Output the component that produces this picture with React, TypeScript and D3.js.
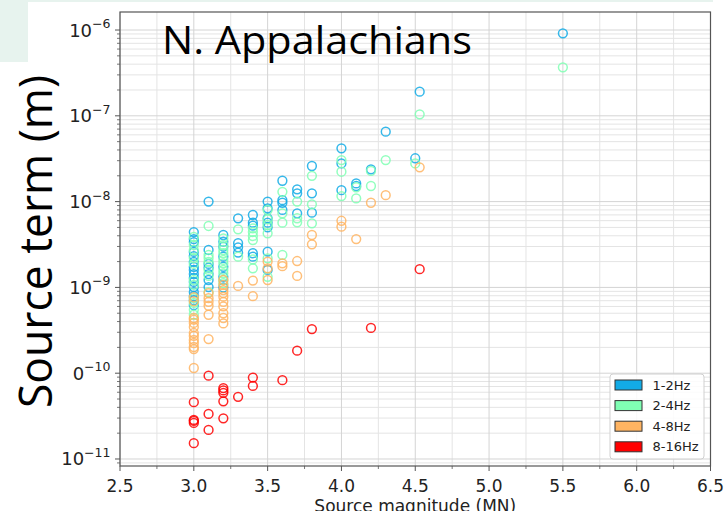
import React from "react";
import * as d3 from "d3";

// Source term (m) versus source magnitude (MN), one series per frequency band
const bandLabels = ["1-2Hz", "2-4Hz", "4-8Hz", "8-16Hz"];
const bandColors = ["#12abe6", "#80ffb4", "#ffb462", "#ff0000"];

const band1to2: [number, number][] = [
  [3.0, 4.42e-9], [3.0, 3.66e-9], [3.0, 3.38e-9], [3.0, 2.59e-9], [3.0, 2.32e-9], [3.0, 1.98e-9],
  [3.0, 1.73e-9], [3.0, 1.6e-9], [3.0, 1.43e-9], [3.0, 1.29e-9], [3.0, 1.16e-9], [3.0, 1.01e-9],
  [3.0, 0.88e-9], [3.0, 0.79e-9], [3.0, 0.71e-9], [3.0, 0.62e-9],
  [3.1, 1.0e-8], [3.1, 2.73e-9], [3.1, 1.88e-9], [3.1, 1.7e-9], [3.1, 1.43e-9], [3.1, 1.22e-9], [3.1, 1.01e-9],
  [3.2, 4.08e-9], [3.2, 3.41e-9], [3.2, 2.98e-9], [3.2, 2.28e-9], [3.2, 1.74e-9], [3.2, 1.33e-9], [3.2, 1.0e-9],
  [3.3, 6.39e-9], [3.3, 3.27e-9], [3.3, 2.93e-9], [3.3, 2.54e-9],
  [3.4, 6.98e-9], [3.4, 5.68e-9], [3.4, 5.24e-9], [3.4, 2.5e-9], [3.4, 2.28e-9],
  [3.5, 1.0e-8], [3.5, 8.36e-9], [3.5, 6.39e-9], [3.5, 5.68e-9], [3.5, 5.01e-9], [3.5, 2.61e-9], [3.5, 1.6e-9],
  [3.6, 1.75e-8], [3.6, 1.04e-8], [3.6, 9.7e-9], [3.6, 8.0e-9],
  [3.7, 1.39e-8], [3.7, 1.25e-8], [3.7, 7.3e-9],
  [3.8, 2.6e-8], [3.8, 1.25e-8], [3.8, 7.43e-9],
  [4.0, 4.18e-8], [4.0, 2.79e-8], [4.0, 1.36e-8],
  [4.1, 1.63e-8], [4.1, 1.52e-8],
  [4.2, 2.38e-8],
  [4.3, 6.53e-8],
  [4.5, 3.2e-8],
  [4.53, 1.91e-7],
  [5.5, 9.16e-7],
];

const band2to4: [number, number][] = [
  [3.0, 3.87e-9], [3.0, 3.12e-9], [3.0, 2.73e-9], [3.0, 2.2e-9], [3.0, 1.88e-9], [3.0, 1.22e-9],
  [3.0, 1.07e-9], [3.0, 0.75e-9], [3.0, 0.66e-9], [3.0, 0.55e-9], [3.0, 0.48e-9],
  [3.1, 5.2e-9], [3.1, 2.39e-9], [3.1, 2.2e-9], [3.1, 1.98e-9], [3.1, 1.6e-9], [3.1, 1.36e-9], [3.1, 0.88e-9],
  [3.2, 3.73e-9], [3.2, 3.12e-9], [3.2, 2.73e-9], [3.2, 2.5e-9], [3.2, 2.09e-9], [3.2, 1.91e-9],
  [3.2, 1.6e-9], [3.2, 1.46e-9], [3.2, 1.22e-9], [3.2, 1.12e-9],
  [3.3, 4.75e-9], [3.3, 2.28e-9],
  [3.4, 4.88e-9], [3.4, 4.42e-9], [3.4, 3.97e-9], [3.4, 3.56e-9], [3.4, 2.12e-9], [3.4, 1.67e-9],
  [3.5, 7.98e-9], [3.5, 6.2e-9], [3.5, 5.34e-9], [3.5, 4.27e-9], [3.5, 2.18e-9], [3.5, 1.33e-9],
  [3.6, 1.3e-8], [3.6, 7.3e-9], [3.6, 5.68e-9], [3.6, 2.39e-9],
  [3.7, 1.0e-8], [3.7, 6.4e-9], [3.7, 5.74e-9],
  [3.8, 2.0e-8], [3.8, 9.3e-9], [3.8, 5.58e-9],
  [4.0, 3.05e-8], [4.0, 2.23e-8], [4.0, 1.16e-8],
  [4.1, 1.47e-8], [4.1, 1.09e-8],
  [4.2, 2.28e-8], [4.2, 1.52e-8],
  [4.3, 3.05e-8],
  [4.5, 2.79e-8],
  [4.53, 1.04e-7],
  [5.5, 3.67e-7],
];

const band4to8: [number, number][] = [
  [3.0, 0.77e-9], [3.0, 0.69e-9], [3.0, 0.44e-9], [3.0, 0.42e-9], [3.0, 0.385e-9], [3.0, 0.345e-9],
  [3.0, 0.294e-9], [3.0, 0.272e-9], [3.0, 0.244e-9], [3.0, 0.225e-9], [3.0, 0.202e-9], [3.0, 0.191e-9],
  [3.0, 0.115e-9],
  [3.1, 0.86e-9], [3.1, 0.75e-9], [3.1, 0.68e-9], [3.1, 0.61e-9], [3.1, 0.48e-9], [3.1, 0.25e-9],
  [3.2, 1.22e-9], [3.2, 1.07e-9], [3.2, 0.93e-9], [3.2, 0.86e-9], [3.2, 0.78e-9], [3.2, 0.68e-9],
  [3.2, 0.6e-9], [3.2, 0.5e-9], [3.2, 0.44e-9], [3.2, 0.38e-9],
  [3.3, 1.04e-9],
  [3.4, 1.2e-9], [3.4, 0.79e-9],
  [3.5, 2.0e-9], [3.5, 1.67e-9], [3.5, 1.22e-9],
  [3.6, 1.91e-9], [3.6, 1.77e-9],
  [3.7, 2.03e-9], [3.7, 1.36e-9],
  [3.8, 4.08e-9], [3.8, 3.18e-9],
  [4.0, 5.98e-9], [4.0, 5.1e-9],
  [4.1, 3.66e-9],
  [4.2, 9.7e-9],
  [4.3, 1.19e-8],
  [4.53, 2.51e-8],
];

const band8to16: [number, number][] = [
  [3.0, 4.6e-11], [3.0, 2.85e-11], [3.0, 2.78e-11], [3.0, 2.63e-11], [3.0, 1.53e-11],
  [3.1, 9.35e-11], [3.1, 3.35e-11], [3.1, 2.18e-11],
  [3.2, 6.7e-11], [3.2, 6.3e-11], [3.2, 5.9e-11], [3.2, 4.7e-11], [3.2, 2.98e-11],
  [3.3, 5.3e-11],
  [3.4, 8.9e-11], [3.4, 7.1e-11],
  [3.6, 8.3e-11],
  [3.7, 1.83e-10],
  [3.8, 3.27e-10],
  [4.2, 3.37e-10],
  [4.53, 1.63e-9],
];

const xTickLabels = ["2.5", "3.0", "3.5", "4.0", "4.5", "5.0", "5.5", "6.0", "6.5"];
const yDecadeExponents = [-11, -10, -9, -8, -7, -6];

const W = 728;
const H = 511;
const plot = { left: 120, right: 710.5, top: 12, bottom: 466 };

export default function App() {
  const x = d3.scaleLinear().domain([2.5, 6.5]).range([plot.left, plot.right]);
  const y = d3
    .scaleLog()
    .domain([Math.pow(10, -11.0816), Math.pow(10, -5.79)])
    .range([plot.bottom, plot.top]);

  const xMajor = xTickLabels.map(Number);
  const xMinor = d3.range(2.75, 6.5, 0.5);
  const [yLo, yHi] = y.domain();
  const yMinor: number[] = [];
  for (let e = -12; e <= -6; e++) {
    for (let k = 2; k <= 9; k++) {
      const v = k * Math.pow(10, e);
      if (v >= yLo && v <= yHi) yMinor.push(v);
    }
  }
  const yMajor = yDecadeExponents.map((e) => Math.pow(10, e));

  const series = [band1to2, band2to4, band4to8, band8to16];
  const axisColor = "#555";
  const tickFont = "'DejaVu Sans', sans-serif";

  return (
    <svg
      width={W}
      height={H}
      style={{ position: "absolute", left: 0, top: 0, background: "#fff" }}
      fontFamily={tickFont}
    >
      <rect x={0} y={0} width={W} height={H} fill="#fff" />
      {/* slide decoration */}
      <rect x={0} y={0} width={713} height={2} fill="#e7f3ee" />
      <rect x={0} y={0} width={28} height={62} fill="#e7f3ee" />

      <defs>
        <clipPath id="plotArea">
          <rect x={plot.left} y={plot.top} width={plot.right - plot.left} height={plot.bottom - plot.top} />
        </clipPath>
      </defs>

      {/* grid */}
      <g>
        {yMinor.map((v, i) => (
          <line key={"ym" + i} x1={plot.left} x2={plot.right} y1={y(v)} y2={y(v)} stroke="#e4e4e4" strokeWidth={1} />
        ))}
        {xMinor.map((v, i) => (
          <line key={"xm" + i} x1={x(v)} x2={x(v)} y1={plot.top} y2={plot.bottom} stroke="#e4e4e4" strokeWidth={1} />
        ))}
        {yMajor.map((v, i) => (
          <line key={"yM" + i} x1={plot.left} x2={plot.right} y1={y(v)} y2={y(v)} stroke="#d4d4d4" strokeWidth={1} />
        ))}
        {xMajor.map((v, i) => (
          <line key={"xM" + i} x1={x(v)} x2={x(v)} y1={plot.top} y2={plot.bottom} stroke="#d4d4d4" strokeWidth={1} />
        ))}
      </g>

      {/* points */}
      <g clipPath="url(#plotArea)">
        {series.map((pts, si) =>
          pts.map((p, i) => (
            <circle
              key={si + "-" + i}
              cx={x(p[0])}
              cy={y(p[1])}
              r={4.4}
              fill="none"
              stroke={bandColors[si]}
              strokeOpacity={0.85}
              strokeWidth={1.5}
            />
          ))
        )}
      </g>

      {/* frame */}
      <rect
        x={plot.left}
        y={plot.top}
        width={plot.right - plot.left}
        height={plot.bottom - plot.top}
        fill="none"
        stroke={axisColor}
        strokeWidth={1.2}
      />

      {/* x ticks */}
      {xMajor.map((v, i) => (
        <g key={"xt" + i}>
          <line x1={x(v)} x2={x(v)} y1={plot.bottom} y2={plot.bottom + 5} stroke={axisColor} strokeWidth={1} />
          <text x={x(v)} y={491.5} fontSize={17} textAnchor="middle" fill="#222">
            {xTickLabels[i]}
          </text>
        </g>
      ))}
      {xMinor.map((v, i) => (
        <line key={"xmt" + i} x1={x(v)} x2={x(v)} y1={plot.bottom} y2={plot.bottom + 3} stroke={axisColor} strokeWidth={0.8} />
      ))}

      {/* y ticks */}
      {yMinor.map((v, i) => (
        <line key={"ymt" + i} x1={plot.left - 3} x2={plot.left} y1={y(v)} y2={y(v)} stroke={axisColor} strokeWidth={0.8} />
      ))}
      {yDecadeExponents.map((e, i) => {
        const yy = y(Math.pow(10, e));
        return (
          <g key={"yt" + i}>
            <line x1={plot.left - 5} x2={plot.left} y1={yy} y2={yy} stroke={axisColor} strokeWidth={1} />
            <text x={110.5} y={yy + 6.5} textAnchor="end" fill="#222">
              <tspan fontSize={18}>10</tspan>
              <tspan fontSize={12.5} dy={-8.5}>
                {"\u2212" + Math.abs(e)}
              </tspan>
            </text>
          </g>
        );
      })}

      {/* y title with its text box */}
      <rect x={0} y={330} width={72.5} height={110} fill="#fff" />
      <text
        transform="translate(52,241.5) rotate(-90)"
        textAnchor="middle"
        fontFamily="'Open Sans', sans-serif"
        fontSize={46}
        textLength={333}
        lengthAdjust="spacingAndGlyphs"
        fill="#000"
      >
        Source term (m)
      </text>

      {/* x title */}
      <text x={(plot.left + plot.right) / 2} y={512} textAnchor="middle" fontSize={17} fill="#222">
        Source magnitude (MN)
      </text>

      {/* plot title */}
      <text
        x={162}
        y={53.5}
        fontFamily="'Open Sans', sans-serif"
        fontSize={39}
        textLength={310}
        lengthAdjust="spacingAndGlyphs"
        fill="#000"
      >
        N. Appalachians
      </text>

      {/* legend */}
      <g>
        <rect x={610} y={374} width={94} height={85} rx={3} fill="#fff" fillOpacity={0.85} stroke="#d0d0d0" strokeWidth={1} />
        {bandLabels.map((lab, i) => {
          const top = 380 + i * 20.6;
          return (
            <g key={"lg" + i}>
              <rect x={615} y={top} width={27} height={10} fill={bandColors[i]} stroke="#333" strokeWidth={1} />
              <text x={652.5} y={top + 9.5} fontSize={13} fill="#222">
                {lab}
              </text>
            </g>
          );
        })}
      </g>
    </svg>
  );
}
